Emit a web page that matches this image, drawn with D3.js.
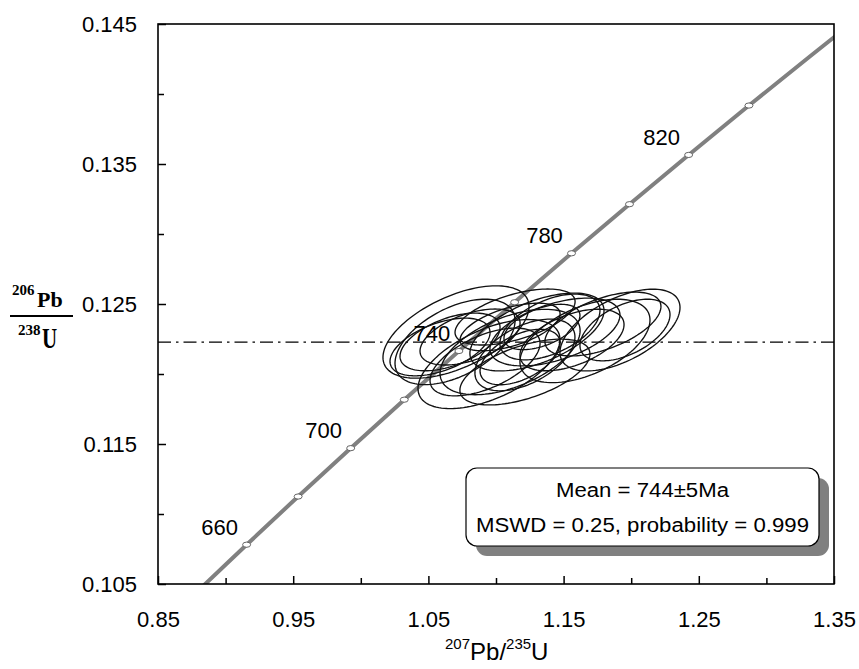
<!DOCTYPE html>
<html>
<head>
<meta charset="utf-8">
<script src="https://cdn.jsdelivr.net/npm/d3@7"></script>
<style>
  html, body { margin: 0; padding: 0; background: #fff; }
  svg { display: block; }
</style>
</head>
<body>
<svg id="chart" width="859" height="669"></svg>
<script>
// ---------------- data ----------------
const xTicksMajor = [0.85, 0.95, 1.05, 1.15, 1.25, 1.35];
const xTicksMinor = [0.90, 1.00, 1.10, 1.20, 1.30];
const yTicksMajor = [0.105, 0.115, 0.125, 0.135, 0.145];
const yTicksMinor = [0.110, 0.120, 0.130, 0.140];

// Concordia points (age in Ma, 207Pb/235U, 206Pb/238U)
const concAge = [640, 660, 680, 700, 720, 740, 760, 780, 800, 820, 840, 860, 880];
const concX = [0.878182, 0.915543, 0.953647, 0.992509, 1.032145, 1.072569, 1.113798, 1.155845, 1.198731, 1.242469, 1.287074, 1.332571, 1.378972];
const concY = [0.104376, 0.107807, 0.111249, 0.114702, 0.118166, 0.121641, 0.125126, 0.128622, 0.132129, 0.135647, 0.139176, 0.142716, 0.146266];
const markerAges = [660, 680, 700, 720, 740, 760, 780, 800, 820, 840];
const labelAges = [660, 700, 740, 780, 820];

// Weighted mean 206Pb/238U line
const meanRatio = 0.12228;

// Analysis error ellipses: centre, 2-sigma half extents, correlation
const ellCx  = [1.0704, 1.0697, 1.0948, 1.1104, 1.1303, 1.1917, 1.1658, 1.1791, 1.1436, 1.0660, 1.1104, 1.1399, 1.1214, 1.0919, 1.0586, 1.1562, 1.1954, 1.1141, 1.1340, 1.1178, 1.1214, 1.0808];
const ellCy  = [0.12300, 0.12229, 0.12071, 0.12157, 0.12300, 0.12314, 0.12236, 0.12357, 0.12300, 0.12229, 0.12336, 0.12336, 0.12136, 0.12086, 0.12193, 0.12243, 0.12314, 0.12407, 0.12336, 0.12121, 0.12014, 0.12264];
const ellSx  = [0.0540, 0.0444, 0.0525, 0.0518, 0.0496, 0.0444, 0.0481, 0.0429, 0.0481, 0.0370, 0.0370, 0.0370, 0.0370, 0.0407, 0.0370, 0.0385, 0.0333, 0.0444, 0.0281, 0.0296, 0.0481, 0.0370];
const ellSy  = [0.00330, 0.00305, 0.00318, 0.00305, 0.00278, 0.00292, 0.00298, 0.00228, 0.00242, 0.00206, 0.00170, 0.00235, 0.00256, 0.00242, 0.00206, 0.00220, 0.00220, 0.00200, 0.00162, 0.00198, 0.00235, 0.00200];
const ellRho = [0.55, 0.50, 0.55, 0.50, 0.55, 0.55, 0.50, 0.55, 0.50, 0.50, 0.55, 0.50, 0.50, 0.55, 0.50, 0.50, 0.50, 0.55, 0.50, 0.50, 0.55, 0.50];

const boxLines = ["Mean = 744\u00B15Ma", "MSWD = 0.25, probability = 0.999"];

// ---------------- drawing ----------------
const svg = d3.select("#chart");
const L = 158, R = 834, T = 24, B = 584;
const x = d3.scaleLinear().domain([0.85, 1.35]).range([L, R]);
const y = d3.scaleLinear().domain([0.105, 0.145]).range([B, T]);

svg.append("defs").append("clipPath").attr("id", "plotclip")
  .append("rect").attr("x", L).attr("y", T).attr("width", R - L).attr("height", B - T);

const plot = svg.append("g").attr("clip-path", "url(#plotclip)");

// concordia
const conc = concAge.map((a, i) => ({ age: a, x: concX[i], y: concY[i] }));
plot.append("path")
  .datum(conc)
  .attr("d", d3.line().x(d => x(d.x)).y(d => y(d.y)).curve(d3.curveCatmullRom))
  .attr("fill", "none")
  .attr("stroke", "#808080")
  .attr("stroke-width", 4);

// mean line (dash-dot)
plot.append("line")
  .attr("x1", L).attr("x2", R)
  .attr("y1", y(meanRatio)).attr("y2", y(meanRatio))
  .attr("stroke", "#000").attr("stroke-width", 1.4)
  .attr("stroke-dasharray", "13,5,2.5,5");

// age markers
const markers = conc.filter(d => markerAges.includes(d.age));
plot.selectAll("ellipse.marker").data(markers).enter().append("ellipse")
  .attr("class", "marker")
  .attr("cx", d => x(d.x)).attr("cy", d => y(d.y))
  .attr("rx", 4).attr("ry", 2.6)
  .attr("fill", "#fff").attr("stroke", "#555").attr("stroke-width", 0.9);

// age labels
const labels = conc.filter(d => labelAges.includes(d.age));
svg.selectAll("text.age").data(labels).enter().append("text")
  .attr("class", "age")
  .attr("x", d => x(d.x) - 27).attr("y", d => y(d.y) - 10)
  .attr("text-anchor", "middle")
  .attr("font-family", "Liberation Sans, Arial, sans-serif")
  .attr("font-size", 22)
  .text(d => d.age);

// error ellipses
const ells = ellCx.map((c, i) => ({ cx: c, cy: ellCy[i], sx: ellSx[i], sy: ellSy[i], rho: ellRho[i] }));
const ellLine = d3.line().curve(d3.curveLinearClosed);
plot.selectAll("path.ell").data(ells).enter().append("path")
  .attr("class", "ell")
  .attr("d", e => {
    const pts = d3.range(0, 120).map(k => {
      const th = k / 120 * 2 * Math.PI;
      const vx = e.cx + e.sx * Math.cos(th);
      const vy = e.cy + e.sy * (e.rho * Math.cos(th) + Math.sqrt(1 - e.rho * e.rho) * Math.sin(th));
      return [x(vx), y(vy)];
    });
    return ellLine(pts);
  })
  .attr("fill", "none").attr("stroke", "#111").attr("stroke-width", 1.35);

// axes
const fontAx = "Liberation Sans, Arial, sans-serif";
const xAxisMajor = d3.axisBottom(x).tickValues(xTicksMajor).tickSize(-8).tickPadding(27).tickFormat(d3.format(".2f"));
const xAxisMinor = d3.axisBottom(x).tickValues(xTicksMinor).tickSize(-6).tickFormat("");
const yAxisMajor = d3.axisLeft(y).tickValues(yTicksMajor).tickSize(-8).tickPadding(21).tickFormat(d3.format(".3f"));
const yAxisMinor = d3.axisLeft(y).tickValues(yTicksMinor).tickSize(-6).tickFormat("");

function styleAxis(g) {
  g.select(".domain").remove();
  g.selectAll(".tick line").attr("stroke", "#000").attr("stroke-width", 1.5);
  g.selectAll(".tick text").attr("font-family", fontAx).attr("font-size", 22).attr("fill", "#000");
}
svg.append("g").attr("transform", `translate(0,${B})`).call(xAxisMajor).call(styleAxis);
svg.append("g").attr("transform", `translate(0,${B})`).call(xAxisMinor).call(styleAxis);
svg.append("g").attr("transform", `translate(${L},0)`).call(yAxisMajor).call(styleAxis);
svg.append("g").attr("transform", `translate(${L},0)`).call(yAxisMinor).call(styleAxis);

// frame
svg.append("rect").attr("x", L).attr("y", T).attr("width", R - L).attr("height", B - T)
  .attr("fill", "none").attr("stroke", "#000").attr("stroke-width", 1.6);

// result box
const bx = 466, by = 468, bw = 353, bh = 78;
svg.append("rect").attr("x", bx + 10).attr("y", by + 10).attr("width", bw).attr("height", bh)
  .attr("rx", 11).attr("fill", "#808080");
svg.append("rect").attr("x", bx).attr("y", by).attr("width", bw).attr("height", bh)
  .attr("rx", 11).attr("fill", "#fff").attr("stroke", "#000").attr("stroke-width", 1.2);
svg.append("text").attr("x", bx + bw / 2).attr("y", 497).attr("text-anchor", "middle")
  .attr("font-family", fontAx).attr("font-size", 20)
  .attr("textLength", 173).attr("lengthAdjust", "spacingAndGlyphs").text(boxLines[0]);
svg.append("text").attr("x", bx + bw / 2).attr("y", 532).attr("text-anchor", "middle")
  .attr("font-family", fontAx).attr("font-size", 20)
  .attr("textLength", 333).attr("lengthAdjust", "spacingAndGlyphs").text(boxLines[1]);

// y axis title (fraction)
const serif = "Liberation Serif, Times New Roman, DejaVu Serif, serif";
const yt = svg.append("g").attr("font-family", serif).attr("font-weight", "bold").attr("fill", "#000");
yt.append("text").attr("x", 12).attr("y", 295).attr("font-size", 15).text("206");
yt.append("text").attr("x", 37).attr("y", 307).attr("font-size", 22).text("Pb");
yt.append("line").attr("x1", 10).attr("x2", 73).attr("y1", 316).attr("y2", 316)
  .attr("stroke", "#000").attr("stroke-width", 2);
yt.append("text").attr("x", 18).attr("y", 335).attr("font-size", 15).text("238");
yt.append("text").attr("transform", "translate(42,348) scale(1,1.45)").attr("font-size", 21).text("U");

// x axis title
const xt = svg.append("text").attr("x", 445).attr("y", 660).attr("font-family", fontAx).attr("fill", "#000");
xt.append("tspan").attr("font-size", 15).attr("dy", -11).text("207");
xt.append("tspan").attr("font-size", 24).attr("dy", 11).text("Pb/");
xt.append("tspan").attr("font-size", 15).attr("dy", -11).text("235");
xt.append("tspan").attr("font-size", 24).attr("dy", 11).text("U");
</script>
</body>
</html>
